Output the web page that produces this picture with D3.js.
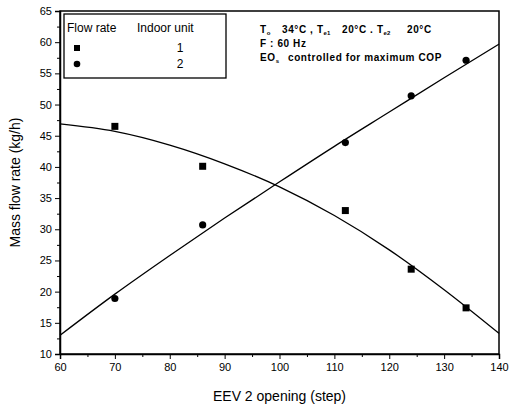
<!DOCTYPE html>
<html lang="en">
<head>
    <meta charset="UTF-8">
    <title>Mass flow rate vs EEV 2 opening</title>
    <script src="https://d3js.org/d3.v7.min.js"></script>
    <style>
        body {
            margin: 0;
            background: #fff;
            font-family: "Liberation Sans", Arial, sans-serif;
        }
        .axis path, .axis line {
            stroke: #000;
        }
        .axis text {
            font-size: 11px;
            fill: #000;
        }
        .note {
            font-size: 10px;
            font-weight: bold;
            letter-spacing: 0.6px;
        }
    </style>
</head>
<body>
    <div id="chart"></div>
    <script>
        // measured points
        const steps = [70, 86, 112, 124, 134];
        const unit1Flow = [46.5, 40.1, 33.0, 23.6, 17.4];
        const unit2Flow = [18.9, 30.7, 43.9, 51.4, 57.1];

        // fitted curves
        const fitSteps = [60, 70, 80, 90, 100, 110, 120, 130, 140];
        const unit1Fit = [46.9, 45.7, 43.5, 40.5, 36.8, 32.2, 26.7, 20.3, 13.3];
        const unit2Fit = [13.0, 19.6, 25.8, 31.8, 37.6, 43.3, 48.8, 54.3, 59.7];

        const xTicks = [60, 70, 80, 90, 100, 110, 120, 130, 140];
        const yTicks = [10, 15, 20, 25, 30, 35, 40, 45, 50, 55, 60, 65];

        const margin = { top: 11, right: 14, bottom: 55, left: 60 };
        const W = 513, H = 409;
        const width = W - margin.left - margin.right;
        const height = H - margin.top - margin.bottom;

        const svg = d3.select("#chart")
            .append("svg")
            .attr("width", W)
            .attr("height", H)
            .append("g")
            .attr("transform", `translate(${margin.left},${margin.top})`);

        const x = d3.scaleLinear().domain([60, 140]).range([0, width]);
        const y = d3.scaleLinear().domain([10, 65]).range([height, 0]);

        // frame
        svg.append("rect")
            .attr("width", width)
            .attr("height", height)
            .attr("fill", "none")
            .attr("stroke", "#000")
            .attr("stroke-width", 1.5);

        // minor ticks
        svg.append("g")
            .attr("class", "axis")
            .attr("transform", `translate(0,${height})`)
            .call(d3.axisBottom(x).tickValues(d3.range(65, 140, 10)).tickSize(3).tickFormat(""))
            .select(".domain").remove();
        svg.append("g")
            .attr("class", "axis")
            .call(d3.axisLeft(y).tickValues(d3.range(12.5, 65, 5)).tickSize(3).tickFormat(""))
            .select(".domain").remove();

        // major axes
        const xAxis = svg.append("g")
            .attr("class", "axis")
            .attr("transform", `translate(0,${height})`)
            .call(d3.axisBottom(x).tickValues(xTicks).tickSize(5).tickPadding(4));
        xAxis.select(".domain").attr("stroke-width", 1.5);

        const yAxis = svg.append("g")
            .attr("class", "axis")
            .call(d3.axisLeft(y).tickValues(yTicks).tickSize(5).tickPadding(3));
        yAxis.select(".domain").attr("stroke-width", 1.5);

        // axis titles
        svg.append("text")
            .attr("x", width / 2)
            .attr("y", height + 47)
            .attr("text-anchor", "middle")
            .attr("font-size", 14)
            .text("EEV 2 opening (step)");

        svg.append("text")
            .attr("transform", `translate(${-40},${height / 2}) rotate(-90)`)
            .attr("text-anchor", "middle")
            .attr("font-size", 14)
            .text("Mass flow rate (kg/h)");

        // fit curves
        const line = d3.line()
            .x(d => x(d[0]))
            .y(d => y(d[1]))
            .curve(d3.curveMonotoneX);

        [unit1Fit, unit2Fit].forEach(vals => {
            svg.append("path")
                .datum(fitSteps.map((s, i) => [s, vals[i]]))
                .attr("fill", "none")
                .attr("stroke", "#000")
                .attr("stroke-width", 1.3)
                .attr("d", line);
        });

        // markers
        const sq = 7;
        svg.selectAll(".sq")
            .data(steps.map((s, i) => [s, unit1Flow[i]]))
            .enter()
            .append("rect")
            .attr("x", d => x(d[0]) - sq / 2)
            .attr("y", d => y(d[1]) - sq / 2)
            .attr("width", sq)
            .attr("height", sq)
            .attr("fill", "#000");

        svg.selectAll(".dot")
            .data(steps.map((s, i) => [s, unit2Flow[i]]))
            .enter()
            .append("circle")
            .attr("cx", d => x(d[0]))
            .attr("cy", d => y(d[1]))
            .attr("r", 3.6)
            .attr("fill", "#000");

        // legend box
        const leg = svg.append("g").attr("transform", "translate(4,3)");
        leg.append("rect")
            .attr("width", 162)
            .attr("height", 64)
            .attr("fill", "#fff")
            .attr("stroke", "#000")
            .attr("stroke-width", 1.3);
        leg.append("text").attr("x", 3).attr("y", 18).attr("font-size", 12).text("Flow rate");
        leg.append("text").attr("x", 73).attr("y", 18).attr("font-size", 12).text("Indoor unit");
        leg.append("rect").attr("x", 10).attr("y", 31).attr("width", 6).attr("height", 6).attr("fill", "#000");
        leg.append("text").attr("x", 116).attr("y", 38).attr("font-size", 12).attr("text-anchor", "middle").text("1");
        leg.append("circle").attr("cx", 13).attr("cy", 50).attr("r", 3.3).attr("fill", "#000");
        leg.append("text").attr("x", 116).attr("y", 54).attr("font-size", 12).attr("text-anchor", "middle").text("2");

        // operating conditions (pieces placed where the scan has them)
        const note = svg.append("g").attr("transform", "translate(200,0)");
        const addPieces = (yPos, pieces) => {
            const t = note.append("text").attr("class", "note").attr("y", yPos);
            pieces.forEach(p => {
                const ts = t.append("tspan").text(p.s);
                if (p.x != null) ts.attr("x", p.x).attr("y", yPos);
                if (p.sub) ts.attr("font-size", 6).attr("letter-spacing", 0).attr("dy", 2);
            });
        };
        addPieces(22, [
            { s: "T", x: 0 }, { s: "o", sub: true },
            { s: "34°C , T", x: 22 }, { s: "e1", sub: true },
            { s: "20°C . T", x: 82 }, { s: "e2", sub: true },
            { s: "20°C", x: 147 }
        ]);
        addPieces(36, [{ s: "F : 60 Hz", x: 0 }]);
        addPieces(50, [
            { s: "EO", x: 0 }, { s: "s", sub: true },
            { s: "controlled for maximum COP", x: 28 }
        ]);
    </script>
</body>
</html>
